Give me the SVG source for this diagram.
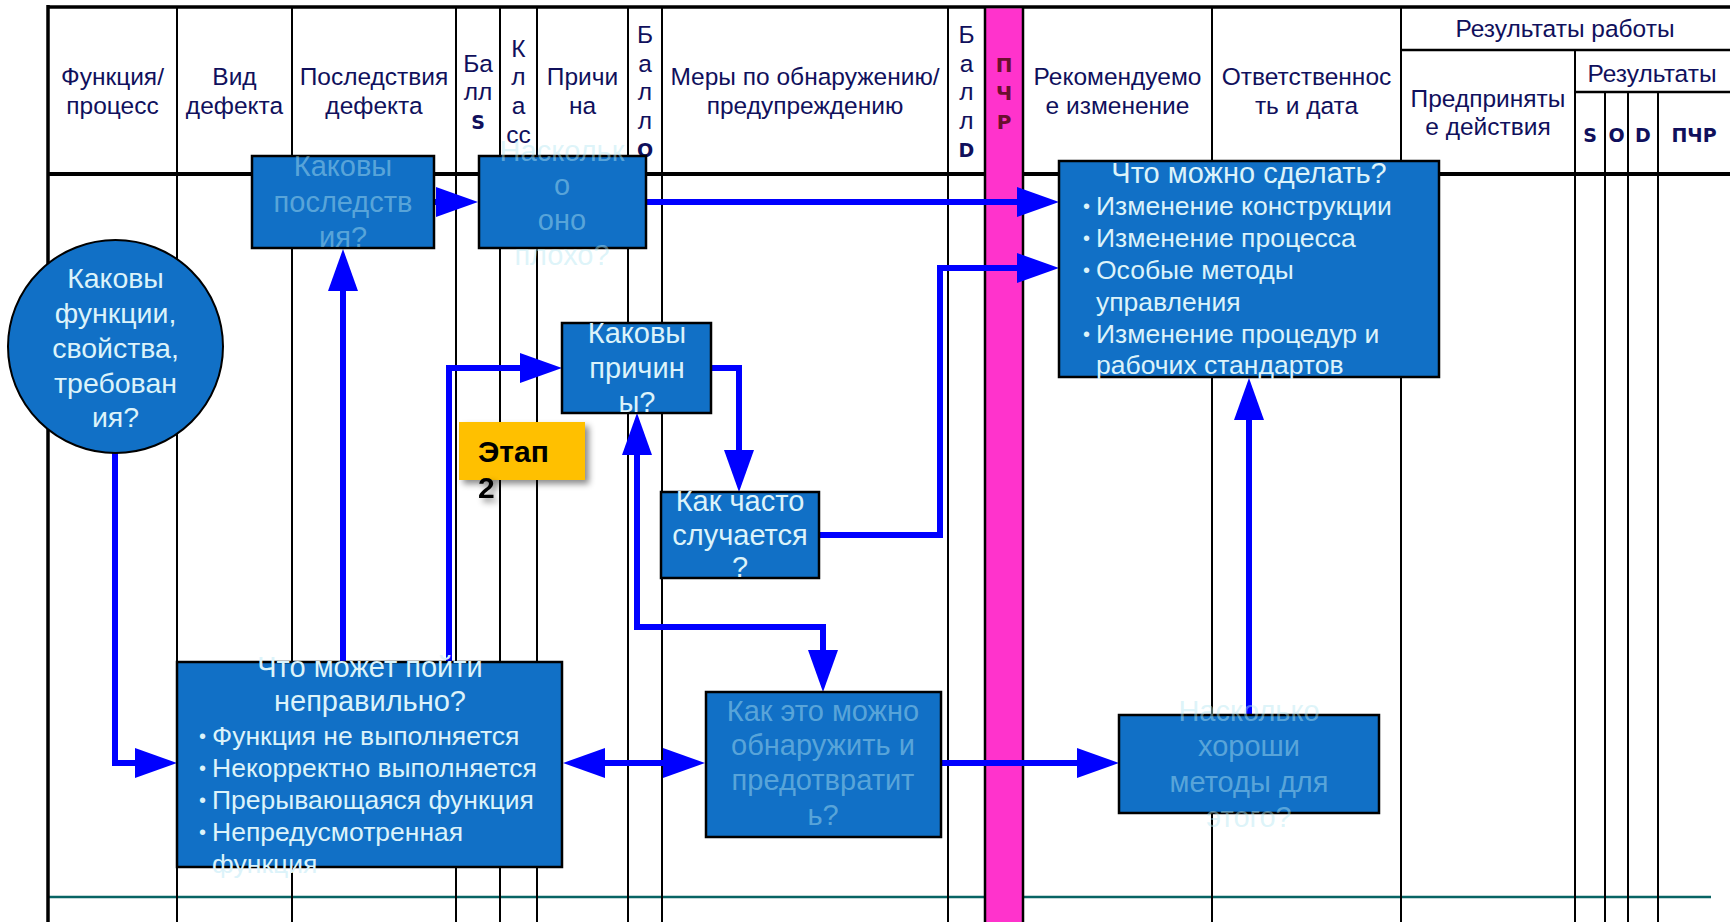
<svg xmlns="http://www.w3.org/2000/svg" width="1730" height="922" viewBox="0 0 1730 922">
<defs>
<style>
.grid{stroke:#000;stroke-width:2;fill:none}
.hdr{font-family:"Liberation Sans",Arial,sans-serif;font-size:24.5px;fill:#10105c;text-anchor:middle}
.hb{font-family:"DejaVu Sans",Verdana,sans-serif;font-weight:bold;font-size:19px;fill:#10105c;text-anchor:middle}
.pcr{fill:#6a0f2f;font-size:20px}
.box{fill:#1170c6;stroke:#000;stroke-width:2.5}
.t{font-family:"Liberation Sans",Arial,sans-serif;font-size:26.5px}
.t2{font-family:"Liberation Sans",Arial,sans-serif;font-size:29px}
.tc{font-family:"Liberation Sans",Arial,sans-serif;font-size:28.5px}
.c{text-anchor:middle}
.br{fill:#dcf3fa}
.fd{fill:#b4e8f2;fill-opacity:0.45}
.bul{font-family:"Liberation Sans",Arial,sans-serif;font-size:20px;fill:#dcf3fa}
.conn{stroke:#0000ff;stroke-width:6;fill:none;stroke-linejoin:miter}
.stage{font-family:"Liberation Sans",Arial,sans-serif;font-weight:bold;font-size:30px;fill:#000}
</style>
<marker id="ah" markerUnits="userSpaceOnUse" markerWidth="42" markerHeight="30" refX="0" refY="15" orient="auto-start-reverse">
<path d="M0,0 L42,15 L0,30 Z" fill="#0000ff"/>
</marker>
<filter id="sh" x="-20%" y="-20%" width="150%" height="160%">
<feDropShadow dx="4" dy="4" stdDeviation="3" flood-color="#000" flood-opacity="0.45"/>
</filter>
</defs>
<rect width="1730" height="922" fill="#fff"/>

<g id="table">
<line class="grid" x1="48" y1="7" x2="1730" y2="7" style="stroke-width:3.5"/>
<line class="grid" x1="1401" y1="50" x2="1730" y2="50" style="stroke-width:2.5"/>
<line class="grid" x1="1575" y1="92" x2="1730" y2="92" style="stroke-width:2.5"/>
<line class="grid" x1="48" y1="174" x2="1730" y2="174" style="stroke-width:4"/>
<line x1="48" y1="897" x2="1711" y2="897" stroke="#086464" stroke-width="2.5"/>
<line class="grid" x1="48" y1="5" x2="48" y2="922" style="stroke-width:3.5"/>
<line class="grid" x1="177" y1="7" x2="177" y2="922"/>
<line class="grid" x1="292" y1="7" x2="292" y2="922"/>
<line class="grid" x1="456" y1="7" x2="456" y2="922"/>
<line class="grid" x1="500" y1="7" x2="500" y2="922"/>
<line class="grid" x1="537" y1="7" x2="537" y2="922"/>
<line class="grid" x1="628" y1="7" x2="628" y2="922"/>
<line class="grid" x1="662" y1="7" x2="662" y2="922"/>
<line class="grid" x1="948" y1="7" x2="948" y2="922"/>
<rect x="985" y="8.5" width="38" height="914" fill="#ff33cc"/>
<line class="grid" x1="985" y1="7" x2="985" y2="922" style="stroke-width:2.5"/>
<line class="grid" x1="1023" y1="7" x2="1023" y2="922" style="stroke-width:2.5"/>
<line class="grid" x1="1212" y1="7" x2="1212" y2="922"/>
<line class="grid" x1="1401" y1="7" x2="1401" y2="922"/>
<line class="grid" x1="1575" y1="50" x2="1575" y2="922"/>
<line class="grid" x1="1605" y1="92" x2="1605" y2="922"/>
<line class="grid" x1="1628" y1="92" x2="1628" y2="922"/>
<line class="grid" x1="1658" y1="92" x2="1658" y2="922"/>

<text class="hdr" x="112.5" y="85">Функция/</text>
<text class="hdr" x="112.5" y="114">процесс</text>
<text class="hdr" x="234.5" y="85">Вид</text>
<text class="hdr" x="234.5" y="114">дефекта</text>
<text class="hdr" x="374" y="85">Последствия</text>
<text class="hdr" x="374" y="114">дефекта</text>
<text class="hdr" x="478" y="72">Ба</text>
<text class="hdr" x="478" y="100">лл</text>
<text class="hb" x="478" y="129">S</text>
<text class="hdr" x="518.5" y="57">К</text>
<text class="hdr" x="518.5" y="85">л</text>
<text class="hdr" x="518.5" y="114">а</text>
<text class="hdr" x="518.5" y="143">сс</text>
<text class="hdr" x="582.5" y="85">Причи</text>
<text class="hdr" x="582.5" y="114">на</text>
<text class="hdr" x="645" y="43">Б</text>
<text class="hdr" x="645" y="72">а</text>
<text class="hdr" x="645" y="100">л</text>
<text class="hdr" x="645" y="129">л</text>
<text class="hb" x="645" y="157">O</text>
<text class="hdr" x="805" y="85">Меры по обнаружению/</text>
<text class="hdr" x="805" y="114">предупреждению</text>
<text class="hdr" x="966.5" y="43">Б</text>
<text class="hdr" x="966.5" y="72">а</text>
<text class="hdr" x="966.5" y="100">л</text>
<text class="hdr" x="966.5" y="129">л</text>
<text class="hb" x="966.5" y="157">D</text>
<text class="hb pcr" x="1004" y="72">П</text>
<text class="hb pcr" x="1004" y="100">Ч</text>
<text class="hb pcr" x="1004" y="129">Р</text>
<text class="hdr" x="1117.5" y="85">Рекомендуемо</text>
<text class="hdr" x="1117.5" y="114">е изменение</text>
<text class="hdr" x="1306.5" y="85">Ответственнос</text>
<text class="hdr" x="1306.5" y="114">ть и дата</text>
<text class="hdr" x="1565" y="37">Результаты работы</text>
<text class="hdr" x="1652" y="82">Результаты</text>
<text class="hdr" x="1488" y="107">Предприняты</text>
<text class="hdr" x="1488" y="135">е действия</text>
<text class="hb" x="1590" y="142">S</text>
<text class="hb" x="1616.5" y="142">O</text>
<text class="hb" x="1643" y="142">D</text>
<text class="hb" x="1694" y="142">ПЧР</text>
</g>

<g id="connectors">
<path class="conn" d="M115,453 V763 H135" marker-end="url(#ah)"/>
<path class="conn" d="M343,662 V291" marker-end="url(#ah)"/>
<path class="conn" d="M449,662 V368 H520" marker-end="url(#ah)"/>
<path class="conn" d="M434,202 H436" marker-end="url(#ah)"/>
<path class="conn" d="M646,202 H1017" marker-end="url(#ah)"/>
<path class="conn" d="M819,535 H940 V268 H1017" marker-end="url(#ah)"/>
<path class="conn" d="M711,368 H739 V450" marker-end="url(#ah)"/>
<path class="conn" d="M637,455 V627 H823 V650" marker-start="url(#ah)" marker-end="url(#ah)"/>
<path class="conn" d="M605,763 H663" marker-start="url(#ah)" marker-end="url(#ah)"/>
<path class="conn" d="M941,763 H1077" marker-end="url(#ah)"/>
<path class="conn" d="M1249,716 V420" marker-end="url(#ah)"/>
</g>

<g id="n-functions">
<ellipse cx="115.5" cy="346.5" rx="107.5" ry="106.5" class="box" style="stroke-width:2"/>
<text class="tc c br" x="115.5" y="288">Каковы</text>
<text class="tc c br" x="115.5" y="323">функции,</text>
<text class="tc c br" x="115.5" y="358">свойства,</text>
<text class="tc c br" x="115.5" y="393">требован</text>
<text class="tc c br" x="115.5" y="427">ия?</text>
</g>

<g id="n-consequences">
<rect class="box" x="252" y="156" width="182" height="92"/>
<text class="t2 c fd" x="343" y="176">Каковы</text>
<text class="t2 c fd" x="343" y="212">последств</text>
<text class="t2 c fd" x="343" y="247">ия?</text>
</g>

<g id="n-severity">
<rect class="box" x="479" y="156" width="167" height="92"/>
<text class="t2 c fd" x="562" y="161">Наскольк</text>
<text class="t2 c fd" x="562" y="195">о</text>
<text class="t2 c fd" x="562" y="230">оно</text>
<text class="t2 c fd" x="562" y="265">плохо?</text>
</g>

<g id="n-actions">
<rect class="box" x="1059" y="161" width="380" height="216"/>
<text class="t2 c br" x="1249" y="183">Что можно сделать?</text>
<text class="bul" x="1083" y="213">•</text>
<text class="t br" x="1096" y="215">Изменение конструкции</text>
<text class="bul" x="1083" y="245">•</text>
<text class="t br" x="1096" y="247">Изменение процесса</text>
<text class="bul" x="1083" y="277">•</text>
<text class="t br" x="1096" y="279">Особые методы</text>
<text class="t br" x="1096" y="311">управления</text>
<text class="bul" x="1083" y="341">•</text>
<text class="t br" x="1096" y="343">Изменение процедур и</text>
<text class="t br" x="1096" y="374">рабочих стандартов</text>
</g>

<g id="n-causes">
<rect class="box" x="562" y="323" width="149" height="90"/>
<text class="t2 c br" x="637" y="343">Каковы</text>
<text class="t2 c br" x="637" y="378">причин</text>
<text class="t2 c br" x="637" y="412">ы?</text>
</g>

<g id="n-stage">
<rect x="459" y="422" width="126" height="58" fill="#ffc000" filter="url(#sh)"/>
<text class="stage" x="478" y="462">Этап</text>
<text class="stage" x="478" y="498" filter="url(#sh)">2</text>
</g>

<g id="n-frequency">
<rect class="box" x="661" y="492" width="158" height="86"/>
<text class="t2 c br" x="740" y="511">Как часто</text>
<text class="t2 c br" x="740" y="545">случается</text>
<text class="t2 c br" x="740" y="577">?</text>
</g>

<g id="n-failure">
<rect class="box" x="177" y="662" width="385" height="205"/>
<text class="t2 c br" x="370" y="677">Что может пойти</text>
<text class="t2 c br" x="370" y="711">неправильно?</text>
<text class="bul" x="199" y="743">•</text>
<text class="t br" x="212" y="745">Функция не выполняется</text>
<text class="bul" x="199" y="775">•</text>
<text class="t br" x="212" y="777">Некорректно выполняется</text>
<text class="bul" x="199" y="807">•</text>
<text class="t br" x="212" y="809">Прерывающаяся функция</text>
<text class="bul" x="199" y="839">•</text>
<text class="t br" x="212" y="841">Непредусмотренная</text>
<text class="t br" x="212" y="873">функция</text>
</g>

<g id="n-detection">
<rect class="box" x="706" y="692" width="235" height="145"/>
<text class="t2 c fd" x="823" y="721">Как это можно</text>
<text class="t2 c fd" x="823" y="755">обнаружить и</text>
<text class="t2 c fd" x="823" y="790">предотвратит</text>
<text class="t2 c fd" x="823" y="825">ь?</text>
</g>

<g id="n-methods">
<rect class="box" x="1119" y="715" width="260" height="98"/>
<text class="t2 c fd" x="1249" y="721">Насколько</text>
<text class="t2 c fd" x="1249" y="756">хороши</text>
<text class="t2 c fd" x="1249" y="792">методы для</text>
<text class="t2 c fd" x="1249" y="827">этого?</text>
</g>
</svg>
